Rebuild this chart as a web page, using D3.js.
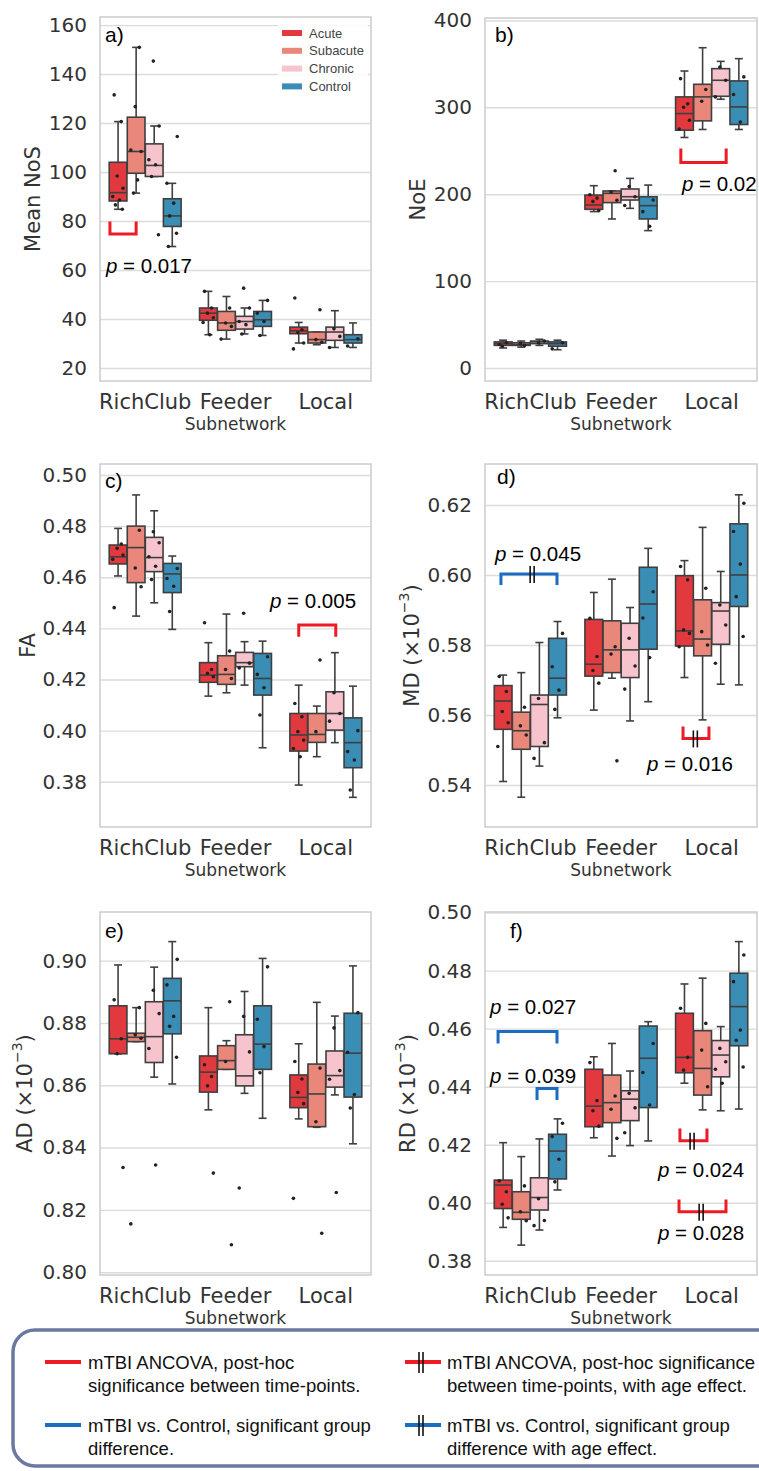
<!DOCTYPE html>
<html>
<head>
<meta charset="utf-8">
<script src="https://cdn.jsdelivr.net/npm/d3@7"></script>
<style>
  body { margin: 0; background: #fff; }
</style>
</head>
<body>
<div class="chart"></div>
<script>
// categories and groups
const categories = ["RichClub", "Feeder", "Local"];
const groups = ["Acute", "Subacute", "Chronic", "Control"];
const groupColors = ["#e2393e", "#e9877b", "#f7c4cd", "#3a8db4"];

// box stats per category, per group: [lowWhisker, q1, median, q3, highWhisker]
const nosBoxes = [
  [[84.8, 88.2, 91.6, 104.0, 120.6], [91.4, 99.5, 108.4, 122.4, 150.9], [98.2, 98.2, 102.7, 111.5, 118.8], [69.6, 77.8, 82.1, 89.1, 95.4]],
  [[33.6, 39.5, 42.4, 44.5, 51.3], [31.8, 35.4, 38.4, 43.1, 49.2], [33.9, 35.9, 39.0, 41.1, 44.5], [33.3, 37.0, 39.7, 43.1, 47.6]],
  [[30.2, 34.0, 35.2, 36.7, 38.6], [29.5, 30.2, 31.6, 34.7, 34.7], [28.4, 31.3, 34.7, 36.7, 43.4], [28.4, 30.2, 31.6, 33.6, 38.4]]
];
const nosPoints = [
  [[131.5, 120.6, 98.4, 93.4, 90.0, 88.6, 86.6, 84.8], [150.9, 126.7, 108.4, 109.0, 96.8, 91.4], [145.3, 118.8, 105.0, 103.0, 98.2, 74.4], [114.5, 95.4, 87.3, 82.1, 75.0, 69.6]],
  [[51.3, 44.5, 42.4, 40.5, 38.6, 33.6], [44.5, 38.4, 37.0, 31.8], [52.6, 44.5, 39.0, 37.7, 33.9], [47.6, 42.4, 39.0, 33.3]],
  [[48.6, 35.6, 34.5, 30.2, 27.8], [43.8, 31.6, 30.5], [36.0, 32.9, 28.4], [31.9, 29.0]]
];

const noeBoxes = [
  [[23, 26, 28, 30, 32], [24, 26, 27, 29, 31], [26, 28, 30, 31, 33], [21, 25, 28, 30, 32]],
  [[180, 182.6, 187.6, 199, 209.8], [171.5, 190.3, 201, 203.7, 203.7], [183.7, 193.3, 197.1, 206, 218.2], [158.1, 171.5, 186.8, 197.1, 210.5]],
  [[265.3, 273.7, 292.8, 312, 341.8], [274.5, 284.4, 312, 326.5, 368.6], [309.3, 312.7, 331.1, 344.5, 352.9], [274.5, 280.2, 300.5, 330.4, 356]]
];
const noePoints = [
  [[27, 29, 25], [26, 28], [29, 31], [29, 22]],
  [[199.4, 195.5, 191.7, 181], [227, 202.6, 193], [208.8, 197.1, 187], [193.3, 179.9, 163]],
  [[333, 304, 300, 285, 275], [320.5, 307], [346.3, 331.1, 312], [335, 314.8, 283]]
];

const faBoxes = [
  [[0.4605, 0.4652, 0.4680, 0.4726, 0.4791], [0.4448, 0.4579, 0.4716, 0.4800, 0.4922], [0.4500, 0.4622, 0.4677, 0.4756, 0.4860], [0.4396, 0.4540, 0.4613, 0.4654, 0.4683]],
  [[0.4135, 0.4189, 0.4217, 0.4266, 0.4344], [0.4148, 0.4181, 0.4220, 0.4293, 0.4456], [0.4178, 0.4250, 0.4266, 0.4306, 0.4348], [0.3933, 0.4139, 0.4204, 0.4302, 0.4350]],
  [[0.3787, 0.3920, 0.3983, 0.4067, 0.4178], [0.3898, 0.3954, 0.3985, 0.4067, 0.4096], [0.3953, 0.4002, 0.4067, 0.4152, 0.4305], [0.3739, 0.3855, 0.3953, 0.4050, 0.4174]]
];
const faPoints = [
  [[0.4481, 0.4730, 0.4713, 0.4687, 0.4670], [0.4784, 0.4636, 0.4563], [0.4778, 0.4735, 0.4680, 0.4643, 0.4591], [0.4634, 0.4595, 0.4565, 0.4466]],
  [[0.4422, 0.4239, 0.4224, 0.4211], [0.4311, 0.4239, 0.4204], [0.4459, 0.4264, 0.4245], [0.4289, 0.4220, 0.4168, 0.4061]],
  [[0.4106, 0.4054, 0.3996, 0.3963, 0.3930, 0.3898], [0.4276, 0.3996], [0.4148, 0.4067, 0.4037], [0.4000, 0.3918, 0.3885, 0.3768]]
];

const mdBoxes = [
  [[0.5410, 0.5559, 0.5640, 0.5684, 0.5714], [0.5365, 0.5502, 0.5555, 0.5608, 0.5721], [0.5454, 0.5510, 0.5630, 0.5657, 0.5807], [0.5592, 0.5657, 0.5705, 0.5819, 0.5867]],
  [[0.5614, 0.5711, 0.5745, 0.5873, 0.5950], [0.5705, 0.5721, 0.5786, 0.5869, 0.5988], [0.5583, 0.5707, 0.5786, 0.5862, 0.5907], [0.5638, 0.5788, 0.5917, 0.6022, 0.6076]],
  [[0.5707, 0.5797, 0.5840, 0.5998, 0.6041], [0.5586, 0.5769, 0.5817, 0.5929, 0.6136], [0.5688, 0.5802, 0.5897, 0.5921, 0.6010], [0.5686, 0.5910, 0.6000, 0.6146, 0.6229]]
];
const mdPoints = [
  [[0.5710, 0.5667, 0.5610, 0.5578, 0.5510], [0.5622, 0.5569, 0.5543], [0.5647, 0.5521, 0.5476], [0.5833, 0.5738, 0.5671, 0.5616]],
  [[0.5876, 0.5767, 0.5727, 0.5691], [0.5795, 0.5774, 0.5469], [0.5819, 0.5740, 0.5674], [0.5952, 0.5877, 0.5764]],
  [[0.6024, 0.5986, 0.5843, 0.5833, 0.5795], [0.5962, 0.5838, 0.5800], [0.5914, 0.5857, 0.5748], [0.6205, 0.6124, 0.6031, 0.5938, 0.5824]]
];

const adBoxes = [
  [[0.8701, 0.8701, 0.8749, 0.8855, 0.8986], [0.8740, 0.8740, 0.8754, 0.8767, 0.8849], [0.8626, 0.8673, 0.8756, 0.8868, 0.8979], [0.8604, 0.8765, 0.8871, 0.8943, 0.9061]],
  [[0.8521, 0.8578, 0.8642, 0.8694, 0.8849], [0.8651, 0.8651, 0.8679, 0.8727, 0.8743], [0.8574, 0.8598, 0.8630, 0.8762, 0.8901], [0.8494, 0.8651, 0.8732, 0.8855, 0.9007]],
  [[0.8492, 0.8528, 0.8561, 0.8633, 0.8733], [0.8465, 0.8467, 0.8572, 0.8668, 0.8866], [0.8569, 0.8594, 0.8631, 0.8710, 0.8822], [0.8412, 0.8562, 0.8703, 0.8831, 0.8983]]
];
const adPoints = [
  [[0.8874, 0.8749, 0.8701, 0.8336], [0.8849, 0.8762, 0.8751, 0.8155], [0.8905, 0.8830, 0.8718, 0.8344], [0.9004, 0.8922, 0.8821, 0.8789, 0.8690]],
  [[0.8666, 0.8628, 0.8598, 0.8318], [0.8868, 0.8676, 0.8088], [0.8821, 0.8707, 0.8270], [0.8980, 0.8812, 0.8724, 0.8640]],
  [[0.8676, 0.8620, 0.8577, 0.8541, 0.8237], [0.8655, 0.8483, 0.8125], [0.8784, 0.8647, 0.8619, 0.8256], [0.8833, 0.8706, 0.8570, 0.8527]]
];

const rdBoxes = [
  [[0.3915, 0.3980, 0.4061, 0.4078, 0.4207], [0.3854, 0.3943, 0.3967, 0.4038, 0.4159], [0.3906, 0.3975, 0.4018, 0.4086, 0.4220], [0.4044, 0.4082, 0.4178, 0.4236, 0.4289]],
  [[0.4224, 0.4262, 0.4333, 0.4460, 0.4503], [0.4161, 0.4276, 0.4345, 0.4440, 0.4549], [0.4197, 0.4283, 0.4357, 0.4386, 0.4454], [0.4213, 0.4328, 0.4498, 0.4609, 0.4624]],
  [[0.4412, 0.4448, 0.4501, 0.4653, 0.4754], [0.4320, 0.4371, 0.4463, 0.4593, 0.4774], [0.4317, 0.4434, 0.4509, 0.4559, 0.4607], [0.4323, 0.4541, 0.4676, 0.4791, 0.4900]]
];
const rdPoints = [
  [[0.4076, 0.4038, 0.3995, 0.3948], [0.4058, 0.3969, 0.3938], [0.4014, 0.3939, 0.3921], [0.4274, 0.4228, 0.4150, 0.4072]],
  [[0.4483, 0.4352, 0.4317, 0.4264], [0.4368, 0.4322, 0.4222], [0.4377, 0.4327, 0.4241], [0.4549, 0.4449, 0.4337]],
  [[0.4670, 0.4501, 0.4457], [0.4618, 0.4526, 0.4400], [0.4532, 0.4486, 0.4460, 0.4412], [0.4854, 0.4762, 0.4595, 0.4560, 0.4468]]
];

// tick labels
const nosTicks = [20, 40, 60, 80, 100, 120, 140, 160];
const noeTicks = [0, 100, 200, 300, 400];
const faTicks = [0.38, 0.40, 0.42, 0.44, 0.46, 0.48, 0.50];
const mdTicks = [0.54, 0.56, 0.58, 0.60, 0.62];
const adTicks = [0.80, 0.82, 0.84, 0.86, 0.88, 0.90];
const rdTicks = [0.38, 0.40, 0.42, 0.44, 0.46, 0.48, 0.50];

// significance brackets: category, slot range, bar / arm values, p-value text
const nosNotes = [{cat: 0, from: -0.45, to: 1.0, bar: 74.7, arm: 79.8, kind: "red", p: "0.017", tx: -0.67, ty: 62.0}];
const noeNotes = [{cat: 2, from: -0.2, to: 2.3, bar: 236.6, arm: 252.6, kind: "red", p: "0.02", tx: -0.14, ty: 212.9}];
const faNotes = [{cat: 2, from: 0, to: 2.05, bar: 0.4413, arm: 0.4367, kind: "red", p: "0.005", tx: -1.59, ty: 0.4511}];
const mdNotes = [
  {cat: 0, from: -0.12, to: 2.97, bar: 0.6003, arm: 0.5971, kind: "blue", mark: 1.6, p: "0.045", tx: -0.45, ty: 0.6063},
  {cat: 2, from: -0.08, to: 1.35, bar: 0.5533, arm: 0.5567, kind: "red", mark: 0.6, p: "0.016", tx: -2.07, ty: 0.5463}
];
const adNotes = [];
const rdNotes = [
  {cat: 0, from: -0.28, to: 2.97, bar: 0.4590, arm: 0.4549, kind: "blue", p: "0.027", tx: -0.72, ty: 0.4678},
  {cat: 0, from: 1.87, to: 2.97, bar: 0.4394, arm: 0.4354, kind: "blue", p: "0.039", tx: -0.72, ty: 0.4440},
  {cat: 2, from: -0.25, to: 1.24, bar: 0.4214, arm: 0.4256, kind: "red", mark: 0.42, p: "0.024", tx: -1.46, ty: 0.4116},
  {cat: 2, from: -0.3, to: 2.29, bar: 0.3969, arm: 0.4011, kind: "red", mark: 0.92, p: "0.028", tx: -1.46, ty: 0.3899}
];

const noteColors = {red: "#ee1b24", blue: "#1b6dc1"};
const sans = "'Liberation Sans', Arial, sans-serif";

const width = 759, height = 1471;

const svg = d3.select(".chart").append("svg")
  .attr("width", width)
  .attr("height", height)
  .attr("font-family", "'DejaVu Sans', sans-serif");

svg.append("rect").attr("width", width).attr("height", height).attr("fill", "#fff");

const panels = [
  {letter: "a)", boxes: nosBoxes, points: nosPoints, ticks: nosTicks, fmt: d3.format("d"), domain: [14.7, 163.3],
   x: 100, y: 17, w: 271, h: 364, label: "Mean NoS", labelX: 33, ldx: 5, ldy: 25, notes: nosNotes, legend: true},
  {letter: "b)", boxes: noeBoxes, points: noePoints, ticks: noeTicks, fmt: d3.format("d"), domain: [-15, 402.8],
   x: 485, y: 18, w: 272, h: 363, label: "NoE", labelX: 418, ldx: 10, ldy: 24, notes: noeNotes},
  {letter: "c)", boxes: faBoxes, points: faPoints, ticks: faTicks, fmt: d3.format(".2f"), domain: [0.3623, 0.5043],
   x: 100, y: 464, w: 271, h: 363, label: "FA", labelX: 28, ldx: 5, ldy: 24, notes: faNotes},
  {letter: "d)", boxes: mdBoxes, points: mdPoints, ticks: mdTicks, fmt: d3.format(".2f"), domain: [0.528, 0.6317],
   x: 485, y: 464, w: 272, h: 363, label: "MD", sci: true, labelX: 412, ldx: 12, ldy: 20, notes: mdNotes},
  {letter: "e)", boxes: adBoxes, points: adPoints, ticks: adTicks, fmt: d3.format(".2f"), domain: [0.7991, 0.9156],
   x: 100, y: 912, w: 271, h: 363, label: "AD", sci: true, labelX: 25, ldx: 5, ldy: 26, notes: adNotes},
  {letter: "f)", boxes: rdBoxes, points: rdPoints, ticks: rdTicks, fmt: d3.format(".2f"), domain: [0.3751, 0.5002],
   x: 485, y: 912, w: 272, h: 363, label: "RD", sci: true, labelX: 408, ldx: 25, ldy: 26, notes: rdNotes}
];

const jitter = [-0.22, 0.18, -0.05, 0.28, -0.3, 0.08, -0.15, 0.24];

panels.forEach(drawPanel);

function drawPanel(p) {
  const g = svg.append("g").attr("transform", "translate(" + p.x + "," + p.y + ")");
  const x = d3.scaleBand().domain(categories).range([0, p.w]);
  const xg = d3.scaleBand().domain(groups).range([x.bandwidth() * 0.1, x.bandwidth() * 0.9]);
  const slot = d3.scaleLinear().domain([-0.5, 3.5]).range([x.bandwidth() * 0.1, x.bandwidth() * 0.9]);
  const y = d3.scaleLinear().domain(p.domain).range([p.h, 0]);

  // grid + tick labels
  const yAxis = g.append("g")
    .call(d3.axisLeft(y).tickValues(p.ticks).tickFormat(p.fmt).tickSize(-p.w).tickPadding(13));
  yAxis.select(".domain").remove();
  yAxis.selectAll("line").attr("stroke", "#dcdcdc").attr("stroke-width", 1.4);
  yAxis.selectAll("text").attr("font-size", 20).attr("fill", "#333").attr("font-family", null);
  yAxis.attr("font-family", null);

  g.append("rect")
    .attr("width", p.w).attr("height", p.h)
    .attr("fill", "none").attr("stroke", "#cfcfcf").attr("stroke-width", 1.6);

  const xAxis = g.append("g")
    .attr("transform", "translate(0," + p.h + ")")
    .call(d3.axisBottom(x).tickSize(0).tickPadding(13));
  xAxis.select(".domain").remove();
  xAxis.attr("font-family", null);
  xAxis.selectAll("text").attr("font-size", 21).attr("fill", "#333");

  g.append("text")
    .attr("x", p.w / 2).attr("y", p.h + 49)
    .attr("text-anchor", "middle")
    .attr("font-size", 17).attr("fill", "#333")
    .text("Subnetwork");

  // y label
  const yl = g.append("text")
    .attr("transform", "translate(" + (p.labelX - p.x) + "," + (p.h / 2) + ") rotate(-90)")
    .attr("text-anchor", "middle")
    .attr("dominant-baseline", "central")
    .attr("font-size", 21).attr("fill", "#333");
  if (p.sci) {
    yl.append("tspan").text(p.label + " (\u00d710");
    yl.append("tspan").attr("font-size", 14).attr("dy", -8).text("\u22123");
    yl.append("tspan").attr("dy", 8).text(")");
  } else {
    yl.text(p.label);
  }

  // boxes
  const boxW = xg.bandwidth() * 0.98;
  const capW = boxW * 0.45;
  categories.forEach((cat, i) => {
    groups.forEach((grp, j) => {
      const s = p.boxes[i][j];
      const cx = x(cat) + xg(grp) + xg.bandwidth() / 2;
      const bg = g.append("g");
      bg.append("line").attr("x1", cx).attr("x2", cx).attr("y1", y(s[3])).attr("y2", y(s[4]));
      bg.append("line").attr("x1", cx).attr("x2", cx).attr("y1", y(s[1])).attr("y2", y(s[0]));
      bg.append("line").attr("x1", cx - capW / 2).attr("x2", cx + capW / 2).attr("y1", y(s[4])).attr("y2", y(s[4]));
      bg.append("line").attr("x1", cx - capW / 2).attr("x2", cx + capW / 2).attr("y1", y(s[0])).attr("y2", y(s[0]));
      bg.append("rect")
        .attr("x", cx - boxW / 2).attr("width", boxW)
        .attr("y", y(s[3])).attr("height", Math.max(1, y(s[1]) - y(s[3])))
        .attr("fill", groupColors[j]);
      bg.append("line").attr("x1", cx - boxW / 2).attr("x2", cx + boxW / 2).attr("y1", y(s[2])).attr("y2", y(s[2]));
      bg.selectAll("line, rect").attr("stroke", "#3f3f3f").attr("stroke-width", 1.6);

      bg.selectAll("circle")
        .data(p.points[i][j])
        .enter().append("circle")
          .attr("cx", (d, k) => cx + jitter[(k + j) % jitter.length] * boxW)
          .attr("cy", (d) => y(d))
          .attr("r", 1.8)
          .attr("fill", "#222");
    });
  });

  // significance brackets
  p.notes.forEach((n) => {
    const bx = x(categories[n.cat]);
    const x0 = bx + slot(n.from), x1 = bx + slot(n.to);
    g.append("path")
      .attr("d", "M" + x0 + "," + y(n.arm) + "V" + y(n.bar) + "H" + x1 + "V" + y(n.arm))
      .attr("fill", "none")
      .attr("stroke", noteColors[n.kind])
      .attr("stroke-width", 3);
    if (n.mark !== undefined) {
      const mx = bx + slot(n.mark);
      [-2, 2].forEach((o) => {
        g.append("line")
          .attr("x1", mx + o).attr("x2", mx + o)
          .attr("y1", y(n.bar) - 8).attr("y2", y(n.bar) + 9)
          .attr("stroke", "#111").attr("stroke-width", 1.6);
      });
    }
    const t = g.append("text")
      .attr("x", bx + slot(n.tx)).attr("y", y(n.ty))
      .attr("dominant-baseline", "central")
      .attr("font-family", sans)
      .attr("font-size", 20.5).attr("fill", "#000");
    t.append("tspan").attr("font-style", "italic").text("p");
    t.append("tspan").text(" = " + n.p);
  });

  g.append("text")
    .attr("x", p.ldx).attr("y", p.ldy)
    .attr("font-family", sans)
    .attr("font-size", 21).attr("fill", "#000")
    .text(p.letter);

  if (p.legend) {
    const lg = g.append("g").attr("transform", "translate(" + (p.w - 93) + ",6)");
    lg.append("rect").attr("width", 90).attr("height", 76).attr("fill", "#fff").attr("opacity", 0.85);
    groups.forEach((grp, j) => {
      const row = lg.append("g").attr("transform", "translate(4," + (10 + j * 17.8) + ")");
      row.append("rect").attr("x", 0).attr("y", -3).attr("width", 20).attr("height", 6).attr("fill", groupColors[j]);
      row.append("text").attr("x", 27).attr("y", 0)
        .attr("dominant-baseline", "central")
        .attr("font-family", sans)
        .attr("font-size", 13).attr("fill", "#444")
        .text(grp);
    });
  }
}

// bottom legend
const legendRows = [
  {kind: "red", mark: false, col: 0, row: 0, lines: ["mTBI ANCOVA, post-hoc", "significance between time-points."]},
  {kind: "red", mark: true, col: 1, row: 0, lines: ["mTBI ANCOVA, post-hoc significance", "between time-points, with age effect."]},
  {kind: "blue", mark: false, col: 0, row: 1, lines: ["mTBI vs. Control, significant group", "difference."]},
  {kind: "blue", mark: true, col: 1, row: 1, lines: ["mTBI vs. Control, significant group", "difference with age effect."]}
];

const leg = svg.append("g").attr("transform", "translate(13,1330)");
leg.append("rect")
  .attr("width", 790).attr("height", 136).attr("rx", 22)
  .attr("fill", "#fff").attr("stroke", "#6a79a0").attr("stroke-width", 3.5);

legendRows.forEach((r) => {
  const ex = r.col === 0 ? 32 : 392;
  const ey = r.row === 0 ? 32 : 95;
  const e = leg.append("g").attr("transform", "translate(" + ex + "," + ey + ")");
  e.append("line").attr("x1", 0).attr("x2", 36).attr("y1", 0).attr("y2", 0)
    .attr("stroke", noteColors[r.kind]).attr("stroke-width", 4);
  if (r.mark) {
    [-2, 2].forEach((o) => {
      e.append("line").attr("x1", 16 + o).attr("x2", 16 + o).attr("y1", -10).attr("y2", 11)
        .attr("stroke", "#111").attr("stroke-width", 1.6);
    });
  }
  r.lines.forEach((s, k) => {
    e.append("text")
      .attr("x", r.mark ? 42 : 43).attr("y", 7 + k * 22.5)
      .attr("font-family", sans)
      .attr("font-size", 18.5).attr("fill", "#111")
      .text(s);
  });
});
</script>
</body>
</html>
